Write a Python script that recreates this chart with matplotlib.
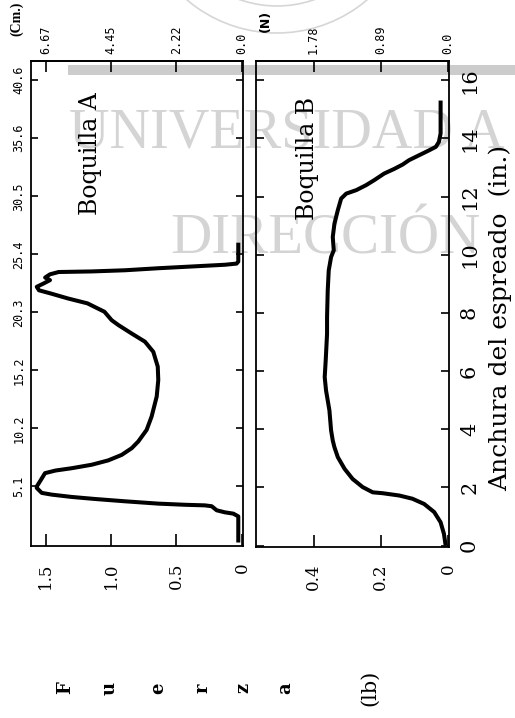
import matplotlib
matplotlib.use('Agg')
import matplotlib.pyplot as plt
from matplotlib.patches import Rectangle, Arc

# ---------------- data ----------------
width_a = [0.07, 0.97, 1.065, 1.11, 1.18, 1.32, 1.35, 1.37, 1.41, 1.49, 1.57, 1.64, 1.72, 1.78,
           1.95, 2.0, 2.18, 2.46, 2.55, 2.63, 2.75, 2.90, 3.09, 3.32, 3.55, 3.95, 4.41, 5.10,
           5.67, 6.13, 6.64, 6.99, 7.27, 7.56, 7.73, 8.02, 8.31, 8.48, 8.65, 8.76, 8.88, 8.99,
           9.11, 9.20, 9.31, 9.39, 9.41, 9.45, 9.52, 9.58, 9.64, 9.68, 9.75, 10.4]
force_a = [0.028, 0.028, 0.066, 0.13, 0.193, 0.231, 0.283, 0.433, 0.639, 0.893, 1.123, 1.30,
           1.453, 1.529, 1.567, 1.567, 1.542, 1.504, 1.424, 1.30, 1.147, 1.021, 0.918, 0.842,
           0.792, 0.728, 0.690, 0.651, 0.639, 0.643, 0.677, 0.741, 0.842, 0.943, 0.995, 1.05,
           1.18, 1.33, 1.46, 1.55, 1.567, 1.517, 1.466, 1.503, 1.466, 1.40, 1.147, 0.893,
           0.639, 0.384, 0.13, 0.041, 0.028, 0.028]

width_b = [0.0, 0.40, 0.80, 1.15, 1.43, 1.61, 1.72, 1.80, 1.83, 2.01, 2.29, 2.64, 3.04, 3.38,
           3.61, 3.96, 4.65, 5.33, 5.79, 6.37, 7.28, 7.86, 8.77, 9.46, 9.92, 10.15, 10.61,
           11.07, 11.53, 11.93, 12.10, 12.22, 12.39, 12.56, 12.79, 12.95, 13.1, 13.25, 13.42,
           13.59, 13.71, 13.88, 14.17, 15.3]
force_b = [0.007, 0.012, 0.022, 0.041, 0.071, 0.106, 0.145, 0.195, 0.224, 0.254, 0.284, 0.308,
           0.328, 0.338, 0.343, 0.348, 0.353, 0.363, 0.367, 0.364, 0.360, 0.360, 0.358, 0.355,
           0.348, 0.340, 0.343, 0.338, 0.328, 0.318, 0.303, 0.273, 0.244, 0.22, 0.19, 0.16,
           0.135, 0.116, 0.086, 0.056, 0.036, 0.027, 0.022, 0.022]

lb_ticks_a = [1.5, 1.0, 0.5, 0.0]
lb_labels_a = ['1.5', '1.0', '0.5', '0']
n_labels_a = ['6.67', '4.45', '2.22', '0.0']
lb_ticks_b = [0.4, 0.2, 0.0]
lb_labels_b = ['0.4', '0.2', '0']
n_labels_b = ['1.78', '0.89', '0.0']
in_ticks = [0, 2, 4, 6, 8, 10, 12, 14, 16]
in_labels = ['0', '2', '4', '6', '8', '10', '12', '14', '16']
cm_labels = ['5.1', '10.2', '15.2', '20.3', '25.4', '30.5', '35.6', '40.6']
fuerza_letters = ['F', 'u', 'e', 'r', 'z', 'a']

W, H = 515, 718
fig = plt.figure(figsize=(W / 100, H / 100), dpi=100)
fig.patch.set_facecolor('white')

def fx(px):
    return px / W

def fy(py):
    return 1 - py / H

# ---------------- watermark (faint background layer) ----------------
bg = fig.add_axes([0, 0, 1, 1], zorder=-5)
bg.set_xlim(0, W)
bg.set_ylim(H, 0)
bg.axis('off')
wm_color = '#d4d4d4'
bg.text(69, 148, 'UNIVERSIDAD A', family='Liberation Serif', fontsize=40.5,
        color=wm_color, ha='left', va='baseline')
bg.text(170, 254, 'DIRECCIÓN', family='Liberation Serif', fontsize=41,
        color=wm_color, ha='left', va='baseline')
for r in (139, 112):
    bg.add_patch(Arc((277, -106), 2 * r, 2 * r, theta1=20, theta2=160,
                     color='#d6d6d6', lw=1.2))

# translucent watermark band, drawn in an overlay layer
ov = fig.add_axes([0, 0, 1, 1], zorder=10)
ov.set_xlim(0, W)
ov.set_ylim(H, 0)
ov.axis('off')
ov.add_patch(Rectangle((68, 65), W - 68, 10, facecolor='black', alpha=0.2, edgecolor='none'))

axis_lw = 1.3
curve_lw = 2.9

def style_axes(ax):
    ax.patch.set_visible(False)
    for s in ax.spines.values():
        s.set_linewidth(axis_lw)
        s.set_color('black')

# ---------------- panel A ----------------
axA = fig.add_axes([fx(31), fy(546), fx(243) - fx(31), fy(61) - fy(546)])
style_axes(axA)
axA.plot(force_a, width_a, color='black', lw=curve_lw, solid_joinstyle='round',
         solid_capstyle='butt')
axA.set_xlim(1.611, -0.008)
axA.set_ylim(-0.05, 16.66)
axA.set_xticks(lb_ticks_a)
axA.set_xticklabels(lb_labels_a, rotation=90, fontsize=12, family='DejaVu Serif')
axA.tick_params(axis='x', direction='in', length=9, width=1.2, pad=12)
axA.set_yticks(in_ticks[1:])
axA.set_yticklabels(cm_labels, rotation=90, fontsize=8.5, family='DejaVu Sans Mono', va='center')
axA.tick_params(axis='y', direction='in', length=5, width=1.2, left=True, right=True, pad=4)
secA = axA.secondary_xaxis('top')
secA.patch.set_visible(False)
secA.set_xticks(lb_ticks_a)
secA.set_xticklabels(n_labels_a, rotation=90, fontsize=8.5, family='DejaVu Sans Mono')
secA.tick_params(direction='in', length=8, width=1.2, pad=5)
secA.spines['top'].set_linewidth(axis_lw)
axA.text(0.28, 0.81, 'Boquilla A', transform=axA.transAxes, rotation=90, ha='center',
         va='center', family='DejaVu Serif', fontsize=17)

# ---------------- panel B ----------------
axB = fig.add_axes([fx(255.5), fy(547), fx(449) - fx(255.5), fy(61) - fy(547)])
style_axes(axB)
axB.plot(force_b, width_b, color='black', lw=curve_lw, solid_joinstyle='round',
         solid_capstyle='butt')
axB.set_xlim(0.573, -0.003)
axB.set_ylim(-0.05, 16.66)
axB.set_xticks(lb_ticks_b)
axB.set_xticklabels(lb_labels_b, rotation=90, fontsize=12, family='DejaVu Serif')
axB.tick_params(axis='x', direction='in', length=9, width=1.2, pad=12)
axB.set_yticks(in_ticks)
axB.set_yticklabels(in_labels, rotation=90, fontsize=15, family='DejaVu Serif', va='center')
axB.tick_params(axis='y', direction='in', length=6, width=1.2, left=True, right=True,
                labelleft=False, labelright=True, pad=8)
secB = axB.secondary_xaxis('top')
secB.patch.set_visible(False)
secB.set_xticks(lb_ticks_b)
secB.set_xticklabels(n_labels_b, rotation=90, fontsize=8.5, family='DejaVu Sans Mono')
secB.tick_params(direction='in', length=8, width=1.2, pad=5)
secB.spines['top'].set_linewidth(axis_lw)
axB.text(0.27, 0.80, 'Boquilla B', transform=axB.transAxes, rotation=90, ha='center',
         va='center', family='DejaVu Serif', fontsize=17)

# ---------------- outer labels ----------------
fig.text(fx(500), fy(318), 'Anchura del espreado  (in.)', rotation=90, ha='center',
         va='center', family='DejaVu Serif', fontsize=18)
for letter, px in zip(fuerza_letters, [65, 110, 158, 202, 243, 285]):
    fig.text(fx(px), fy(688), letter, rotation=90, ha='center', va='center',
             family='DejaVu Serif', fontsize=13, fontweight='bold')
fig.text(fx(370), fy(688), '(lb)', rotation=90, ha='center', va='center',
         family='DejaVu Serif', fontsize=15)
fig.text(fx(17), fy(19), '(Cm.)', rotation=90, ha='center', va='center',
         family='Liberation Serif', fontsize=10, fontweight='bold')
fig.text(fx(265), fy(21), '(N)', rotation=90, ha='center', va='center',
         family='DejaVu Sans', fontsize=9, fontweight='bold')

fig.savefig('out.png', dpi=100)
